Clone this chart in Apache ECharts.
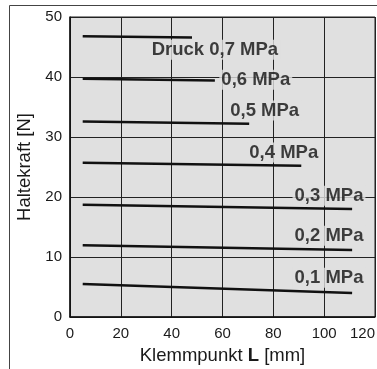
<!DOCTYPE html>
<html>
<head>
<meta charset="utf-8">
<script src="https://cdn.jsdelivr.net/npm/echarts@6/dist/echarts.min.js"></script>
<style>html,body{margin:0;padding:0;background:#fff}#c{width:377px;height:369px}</style>
</head>
<body>
<div id="c"></div>
<script>
// Pressure curves: [L mm, force N] start and end points
const pressures = ['Druck 0,7 MPa', '0,6 MPa', '0,5 MPa', '0,4 MPa', '0,3 MPa', '0,2 MPa', '0,1 MPa'];
const p07 = [[5, 46.8], [48, 46.6]];
const p06 = [[5, 39.7], [57, 39.4]];
const p05 = [[5, 32.6], [70.5, 32.2]];
const p04 = [[5, 25.7], [91, 25.2]];
const p03 = [[5, 18.7], [111, 18.0]];
const p02 = [[5, 11.95], [111, 11.15]];
const p01 = [[5, 5.5], [111, 4.0]];
const curves = [p07, p06, p05, p04, p03, p02, p01];
// label anchor points (data coordinates)
const labelAnchors = [[57, 44.55], [73.1, 39.55], [76.6, 34.4], [84.1, 27.4], [101.9, 20.2], [101.9, 13.55], [101.9, 6.55]];
const xTicks = [0, 20, 40, 60, 80, 100, 120];
const yTicks = [0, 10, 20, 30, 40, 50];

const font = "'Liberation Sans', Arial, Helvetica, sans-serif";
const chart = echarts.init(document.getElementById('c'), null, {renderer: 'canvas'});
const series = curves.map((d, i) => ({
  type: 'line', data: d, symbol: 'none', silent: true, z: 3,
  lineStyle: {color: '#111', width: 2.5}
}));
series.push({
  type: 'scatter', symbolSize: 0, silent: true, z: 5,
  data: labelAnchors.map((p, i) => ({value: p, name: pressures[i]})),
  label: {
    show: true, position: 'inside', formatter: p => p.name,
    fontFamily: font, fontWeight: 'bold', fontSize: 18.5, color: '#111',
    backgroundColor: '#e0e0e0', padding: [1, 2, 0, 2]
  }
});
chart.setOption({
  animation: false,
  grid: {left: 70, top: 17, width: 305, height: 300, outerBoundsMode: 'none', containLabel: false, show: true, backgroundColor: '#e0e0e0', borderColor: '#222', borderWidth: 1},
  graphic: [{type: 'rect', shape: {x: 9.5, y: 5.5, width: 400, height: 400}, style: {fill: 'none', stroke: '#444', lineWidth: 1}, z: -10}],
  xAxis: {
    type: 'value', min: 0, max: 120, interval: 20,
    name: '{a|Klemmpunkt }{b|L}{a| [mm]}', nameLocation: 'middle', nameGap: 29,
    nameTextStyle: {rich: {a: {fontFamily: font, fontSize: 18.5, color: '#1a1a1a'}, b: {fontFamily: font, fontSize: 18.5, fontWeight: 'bold', color: '#1a1a1a'}}},
    axisLine: {lineStyle: {color: '#111', width: 1.5}},
    axisTick: {show: false},
    axisLabel: {fontFamily: font, fontSize: 15, color: '#1a1a1a', margin: 9, alignMaxLabel: 'right', formatter: v => xTicks.includes(v) ? String(v) : ''},
    splitLine: {show: true, lineStyle: {color: '#222', width: 1}}
  },
  yAxis: {
    type: 'value', min: 0, max: 50, interval: 10,
    name: 'Haltekraft [N]', nameLocation: 'middle', nameGap: 33, nameRotate: 90,
    nameTextStyle: {fontFamily: font, fontSize: 18.5, color: '#1a1a1a'},
    axisLine: {show: true, lineStyle: {color: '#111', width: 1.5}},
    axisTick: {show: false},
    axisLabel: {fontFamily: font, fontSize: 15, color: '#1a1a1a', margin: 8, formatter: v => yTicks.includes(v) ? String(v) : ''},
    splitLine: {show: true, lineStyle: {color: '#222', width: 1}}
  },
  series: series
});
</script>
</body>
</html>
